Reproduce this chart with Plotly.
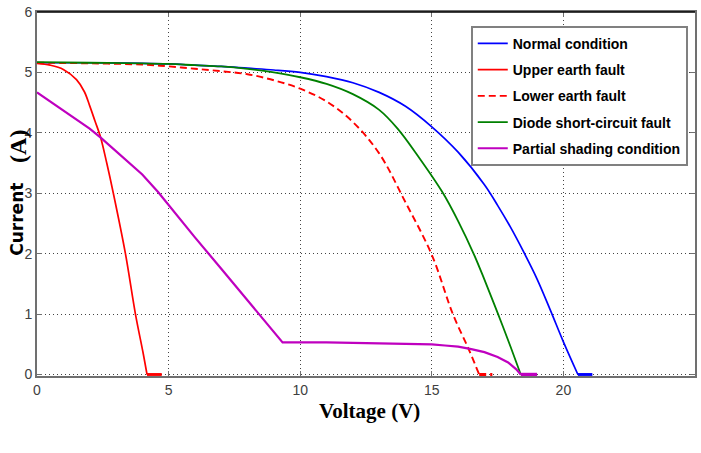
import plotly.graph_objects as go

# ---- data ----
normal_v = [0, 2, 4, 5, 6, 7, 8, 9, 10, 11, 12, 13, 14, 15, 16, 17, 17.5, 18, 18.5, 19, 19.5, 20, 20.55, 21.1]
normal_i = [5.16, 5.16, 5.15, 5.14, 5.12, 5.10, 5.07, 5.04, 5.00, 4.93, 4.83, 4.67, 4.44, 4.10, 3.68, 3.14, 2.80, 2.43, 2.02, 1.58, 1.07, 0.54, 0.0, 0.0]

upper_v = [0, 0.5, 1.0, 1.5, 1.8, 2.0, 2.2, 2.42, 2.65, 2.9, 3.36, 3.74, 4.03, 4.18, 4.74]
upper_i = [5.15, 5.12, 5.05, 4.88, 4.68, 4.45, 4.20, 3.92, 3.50, 3.00, 2.00, 1.00, 0.36, 0.0, 0.0]

lower_v = [0, 2, 4, 5, 6, 7, 8, 9, 10, 11, 12, 13, 14, 15, 15.8, 16.4, 16.8, 17.3]
lower_i = [5.16, 5.15, 5.13, 5.10, 5.06, 5.02, 4.97, 4.87, 4.73, 4.52, 4.18, 3.66, 2.85, 1.98, 1.00, 0.42, 0.0, 0.0]

diode_v = [0, 2, 4, 5, 6, 7, 8, 9, 10, 11, 12, 13, 13.7, 14.5, 15.4, 16, 16.6, 17, 17.5, 18, 18.38]
diode_i = [5.17, 5.16, 5.15, 5.14, 5.12, 5.10, 5.06, 5.00, 4.92, 4.81, 4.64, 4.38, 4.07, 3.60, 3.02, 2.54, 1.99, 1.57, 1.02, 0.45, 0.0]

shade_v = [0, 1, 2, 2.42, 3, 4, 4.6, 5, 6, 7, 8, 9, 9.33, 11, 13, 14, 15, 15.5, 16, 16.5, 17, 17.5, 17.9, 18.2, 18.38, 19.0]
shade_i = [4.67, 4.37, 4.07, 3.92, 3.69, 3.31, 3.02, 2.80, 2.27, 1.75, 1.23, 0.70, 0.53, 0.53, 0.52, 0.51, 0.50, 0.48, 0.46, 0.42, 0.37, 0.29, 0.20, 0.09, 0.0, 0.0]

x_ticks = [0, 5, 10, 15, 20, 25]
y_ticks = [0, 1, 2, 3, 4, 5, 6]

names = ["Normal condition", "Upper earth fault", "Lower earth fault",
         "Diode short-circuit fault", "Partial shading condition"]

# ---- figure ----
fig = go.Figure()


def add_curve(v, i, name, grp, line, spline=True, tail=True):
    """Smooth curve up to the zero crossing, then the flat zero tail."""
    n = len(v) - 1 if tail else len(v)
    curve_line = dict(line)
    if spline:
        curve_line.update(shape="spline", smoothing=1.0)
    fig.add_trace(go.Scatter(x=v[:n], y=i[:n], mode="lines", name=name, legendgroup=grp,
                             line=curve_line))
    if tail:
        tail_line = dict(line)
        tail_line["width"] = line["width"] + 1.2
        fig.add_trace(go.Scatter(x=v[n - 1:], y=i[n - 1:], mode="lines", name=name,
                                 legendgroup=grp, showlegend=False, hoverinfo="skip",
                                 line=tail_line))


add_curve(normal_v, normal_i, names[0], "a", dict(color="#0000ff", width=1.7))
add_curve(upper_v, upper_i, names[1], "b", dict(color="#ff0000", width=1.7))
add_curve(lower_v, lower_i, names[2], "c", dict(color="#ff0000", width=1.9, dash="7px,4px"))
add_curve(diode_v, diode_i, names[3], "d", dict(color="#008000", width=1.8), tail=False)
add_curve(shade_v, shade_i, names[4], "e", dict(color="#bf00bf", width=2.2), spline=False)

tickfont = dict(family="Liberation Sans, Arial", size=14, color="#404040")

fig.update_layout(
    width=701, height=453,
    margin=dict(l=37, r=4, t=12, b=77),
    paper_bgcolor="white", plot_bgcolor="white",
    showlegend=True,
    legend=dict(
        x=0.989, xanchor="right", y=0.962, yanchor="top",
        bgcolor="white", bordercolor="#808080", borderwidth=2,
        font=dict(family="Liberation Sans, Arial", size=14, color="black", weight="bold"),
        traceorder="grouped", tracegroupgap=5,
    ),
    xaxis=dict(
        range=[0, 25], tickvals=x_ticks, ticktext=[str(t) for t in x_ticks],
        showgrid=True, gridcolor="#444444", griddash="1px,3px", gridwidth=1,
        showline=True, linecolor="#707070", linewidth=2, mirror="ticks",
        ticks="inside", ticklen=5, tickcolor="#707070",
        tickfont=tickfont, zeroline=False, layer="below traces",
    ),
    yaxis=dict(
        range=[-0.025, 6], tickvals=y_ticks, ticktext=[str(t) for t in y_ticks],
        showgrid=True, gridcolor="#444444", griddash="1px,3px", gridwidth=1,
        showline=True, linecolor="#707070", linewidth=2, mirror="ticks",
        ticks="inside", ticklen=5, tickcolor="#707070",
        tickfont=tickfont, zeroline=False, layer="below traces",
    ),
    shapes=[dict(type="line", xref="paper", yref="paper", x0=0, x1=1, y0=1, y1=1,
                 line=dict(color="black", width=1.5))],
    annotations=[
        dict(text="Voltage (V)", xref="paper", yref="paper", x=0.505, y=-0.096,
             xanchor="center", yanchor="middle", showarrow=False,
             font=dict(family="Liberation Serif, Times New Roman", size=21, color="black", weight="bold")),
        dict(text="Current", xref="paper", yref="paper", x=-0.03, y=0.43,
             xanchor="center", yanchor="middle", textangle=-90, showarrow=False,
             font=dict(family="DejaVu Sans", size=17, color="black", weight="bold")),
        dict(text="(A)", xref="paper", yref="paper", x=-0.03, y=0.63,
             xanchor="center", yanchor="middle", textangle=-90, showarrow=False,
             font=dict(family="Liberation Serif, Times New Roman", size=24, color="black", weight="bold")),
    ],
)

fig.write_html("out.html", config={"displayModeBar": False},
               post_script="document.body.style.margin='0';document.body.style.overflow='hidden';")
